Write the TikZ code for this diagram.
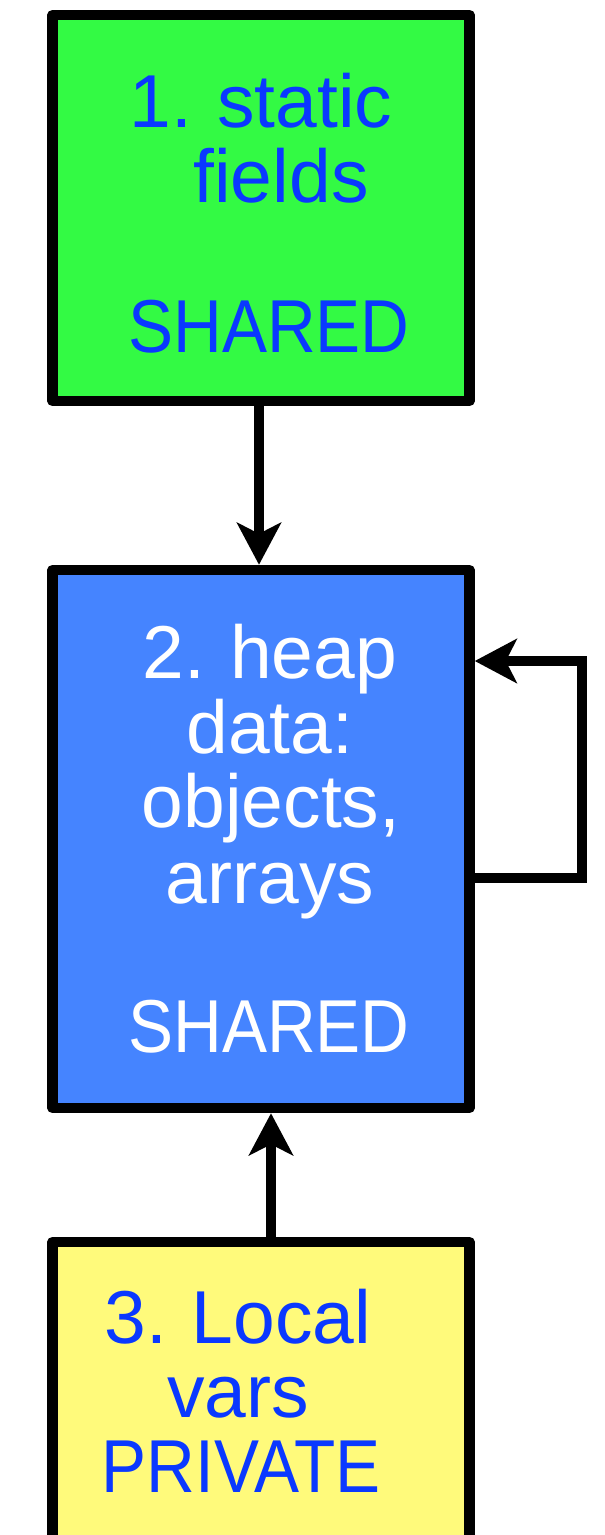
\documentclass[tikz,border=0pt]{standalone}
\usepackage{fontspec}
\setmainfont{Liberation Sans}
\newfontfamily\capsfont[FakeStretch=0.9]{Liberation Sans}
\usetikzlibrary{arrows.meta}
\definecolor{boxgreen}{HTML}{33FA44}
\definecolor{boxblue}{HTML}{4584FF}
\definecolor{boxyellow}{HTML}{FFFA7B}
\definecolor{txtblue}{HTML}{0A38FF}
\begin{document}
\begin{tikzpicture}[x=1pt,y=-1pt,
  memnode/.style={draw=black, line width=10.5pt, line join=round, rectangle, inner sep=0pt},
  conn/.style={line width=10pt, -{Stealth[length=42pt,width=44pt,inset=11pt]}},
  lbl/.style={anchor=base, inner sep=0pt, font=\fontsize{75}{75}\selectfont},
  capslbl/.style={anchor=base, inner sep=0pt, font=\capsfont\fontsize{75}{75}\selectfont}]
\useasboundingbox (0,0) rectangle (605,1535);
\clip (0,0) rectangle (605,1535);
\node[memnode, fill=boxgreen, minimum width=417pt, minimum height=386pt] (b1) at (261,208) {};
\node[memnode, fill=boxblue, minimum width=417pt, minimum height=538pt] (b2) at (261,839) {};
\node[memnode, fill=boxyellow, minimum width=417pt, minimum height=400pt] (b3) at (261,1442) {};
% box 1 text
\node[lbl, text=txtblue] (t1a) at (261,127) {1.\hspace{-3pt} static};
\node[lbl, text=txtblue] (t1b) at (281,202) {fields};
\node[capslbl, text=txtblue] (t1c) at (269,352) {SHARED};
% box 2 text
\node[lbl, text=white] (t2a) at (270,678) {2.\hspace{-3pt} heap};
\node[lbl, text=white] (t2b) at (270,753) {data:};
\node[lbl, text=white] (t2c) at (271,827) {objects,};
\node[lbl, text=white] (t2d) at (270,903) {arrays};
\node[capslbl, text=white] (t2e) at (269,1052) {SHARED};
% box 3 text
\node[lbl, text=txtblue] (t3a) at (238,1343) {3.\hspace{-3pt} Local};
\node[lbl, text=txtblue] (t3b) at (238,1417) {vars};
\node[capslbl, text=txtblue] (t3c) at (241,1492) {PRIVATE};
% connectors
\draw[conn] ([xshift=-2pt]b1.south) -- ([xshift=-2pt]b2.north);
\draw[conn] ([xshift=10pt]b3.north) -- ([xshift=10pt]b2.south);
\coordinate (l1) at (582,878);
\coordinate (l2) at (582,661);
\draw[conn, line join=miter] ([yshift=-39pt]b2.east) -- (l1) -- (l2) -- ([yshift=178pt]b2.east);
\end{tikzpicture}
\end{document}
